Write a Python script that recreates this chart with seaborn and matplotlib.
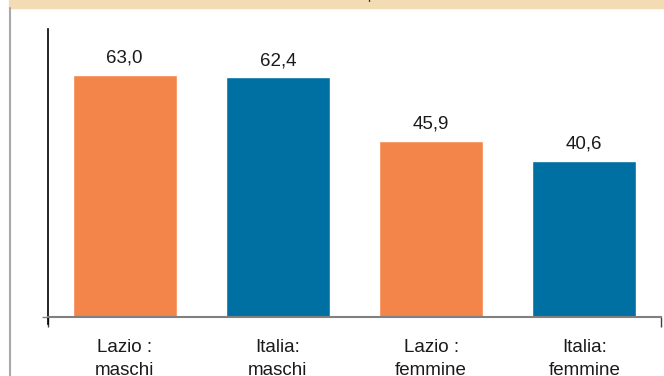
import matplotlib
matplotlib.use("Agg")
import matplotlib.pyplot as plt
import matplotlib.patches as mpatches
import seaborn as sns
import pandas as pd

categories = ['Lazio :\nmaschi', 'Italia:\nmaschi', 'Lazio :\nfemmine', 'Italia:\nfemmine']
values = [63.0, 62.4, 45.9, 40.6]
area = ['Lazio', 'Italia', 'Lazio', 'Italia']
palette = {'Lazio': '#F4854A', 'Italia': '#0070A3'}

sns.set_style('white')
plt.rcParams['font.family'] = ['Liberation Sans', 'DejaVu Sans']

df = pd.DataFrame({'cat': categories, 'val': values, 'area': area})

fig = plt.figure(figsize=(6.64, 3.76), dpi=100)
ax = fig.add_axes([48 / 664, 59 / 376, 613 / 664, 288 / 376])

sns.barplot(data=df, x='cat', y='val', hue='area', palette=palette,
            dodge=False, width=0.68, legend=False, ax=ax, saturation=1)

for cont in ax.containers:
    ax.bar_label(cont, labels=[f"{v:.1f}".replace('.', ',') for v in cont.datavalues],
                 padding=6, fontsize=13.5, color='#1a1a1a')

ax.set_ylim(0, 75)
ax.set_xlim(-0.5, 3.5)
ax.set_xlabel('')
ax.set_ylabel('')
ax.set_yticks([0])
ax.set_yticklabels([])
ax.tick_params(axis='y', length=4, width=1, color='#808080', direction='out', left=True)
ax.tick_params(axis='x', length=0, pad=16, labelsize=13.5, labelcolor='#1a1a1a')
ax.set_xticks([-0.5, 3.5], minor=True)
ax.tick_params(axis='x', which='minor', length=7, width=1, color='#404040', bottom=True)
for lab in ax.get_xticklabels():
    lab.set_linespacing(1.45)

ax.spines['top'].set_visible(False)
ax.spines['right'].set_visible(False)
ax.spines['left'].set_color('black')
ax.spines['left'].set_linewidth(1.2)
ax.spines['left'].set_bounds(-1.8, 75)
ax.spines['bottom'].set_color('#808080')
ax.spines['bottom'].set_linewidth(1.5)
ax.spines['bottom'].set_zorder(5)

# frame: beige band at the top and grey line on the left
fig.patches.append(mpatches.Rectangle((9 / 664, 368 / 376), 655 / 664, 8 / 376,
                                      transform=fig.transFigure, color='#F3DBB4', zorder=0))
fig.add_artist(plt.Line2D([10 / 664, 10 / 664], [0, 368 / 376], transform=fig.transFigure,
                          color='#A8A8A8', linewidth=1.5))
fig.text(371 / 664, 1.0 + 0.5 / 376, 'p', fontsize=10, ha='center', va='baseline', color='#333333')

fig.savefig('out.png', dpi=100)
